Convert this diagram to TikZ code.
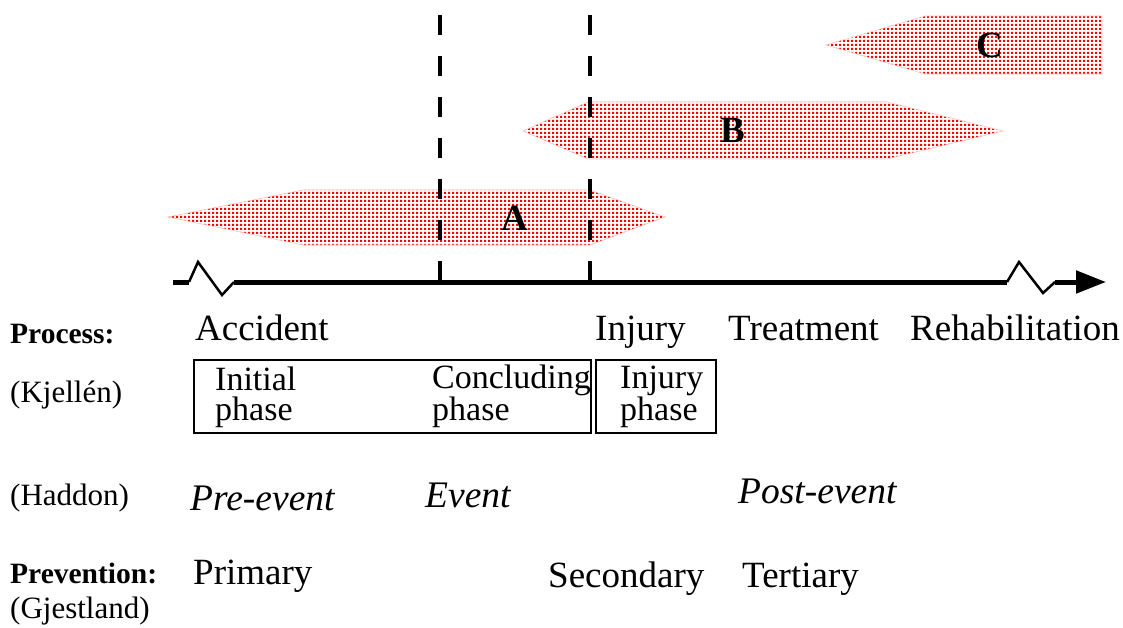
\documentclass[tikz,border=0pt]{standalone}
\usepackage{fontspec}
\setmainfont{Liberation Serif}
\usetikzlibrary{arrows.meta,patterns}
\pgfdeclarepatternformonly{reddots}{\pgfpointorigin}{\pgfpoint{4.2pt}{4.2pt}}{\pgfpoint{4.2pt}{4.2pt}}{%
  \pgfpathrectangle{\pgfpointorigin}{\pgfpoint{2.6pt}{2.6pt}}\pgfusepath{fill}}

\begin{document}
\begin{tikzpicture}[x=1pt, y=-1pt,
  zone/.style={pattern=reddots, pattern color=red, draw=red!25, line width=0.6pt},
  zlabel/.style={inner sep=0pt, font=\fontsize{37}{37}\selectfont\bfseries},
  txt/.style={anchor=base west, inner sep=0pt, font=\fontsize{37}{37}\selectfont},
  itxt/.style={txt, font=\fontsize{37.5}{37}\selectfont\itshape},
  side/.style={anchor=base west, inner sep=0pt, font=\fontsize{31}{31}\selectfont},
  sidebf/.style={side, font=\fontsize{29.5}{30}\selectfont\bfseries},
  phase/.style={anchor=base west, inner sep=0pt, align=left, font=\fontsize{34}{30}\selectfont},
  phasebox/.style={draw, line width=2pt, inner sep=0pt, anchor=north west},
  axis/.style={line width=5pt},
  zig/.style={line width=2.5pt},
  dashline/.style={line width=4.5pt, dash pattern=on 20pt off 21pt}]
\useasboundingbox (0,0) rectangle (1123,628);
% phases A, B, C
\draw[zone] (168,217) -- (303,190) -- (590,190) -- (665,217) -- (590,245) -- (303,245) -- cycle;
\draw[zone] (523,131) -- (588,102) -- (887,102) -- (1003,131) -- (887,159) -- (588,159) -- cycle;
\draw[zone] (826,45) -- (925,16) -- (1102,16) -- (1102,74) -- (925,74) -- cycle;
\node[zlabel] (A) at (515,218) {A};
\node[zlabel] (B) at (733,130) {B};
\node[zlabel] (C) at (990,45) {C};
% time axis
\coordinate (t0) at (173,282);
\coordinate (z1) at (189,282);
\coordinate (z2) at (198,262);
\coordinate (z3) at (222,295);
\coordinate (z4) at (234,282);
\coordinate (t1) at (1007,282);
\coordinate (z5) at (1019,262);
\coordinate (z6) at (1043,293);
\coordinate (z7) at (1055,282);
\coordinate (tip) at (1106,282);
\draw[axis] (t0) -- (z1);
\draw[zig] (z1) -- (z2) -- (z3) -- (z4);
\draw[axis] (z4) -- (t1);
\draw[zig] (t1) -- (z5) -- (z6) -- (z7);
\draw[axis, -{Triangle[length=30pt, width=22pt]}] (z7) -- (tip);
% event boundaries
\coordinate (e1top) at (440,15);
\coordinate (e1bot) at (440,282);
\coordinate (e2top) at (590,15);
\coordinate (e2bot) at (590,282);
\draw[dashline] (e1top) -- (e1bot);
\draw[dashline] (e2top) -- (e2bot);
% row labels
\foreach \n/\s/\y/\l in {process/sidebf/343/Process:, kjellen/side/402/(Kjellén),
   haddon/side/505/(Haddon), prevention/sidebf/583/Prevention:, gjestland/side/618/(Gjestland)}
  \node[\s] (\n) at (10,\y) {\l};
% process
\foreach \n/\x/\l in {accident/195/Accident, injury/595/Injury, treatment/728/Treatment,
   rehab/910/Rehabilitation}
  \node[txt] (\n) at (\x,340) {\l};
% Kjellen phases
\node[phasebox, minimum width=397pt, minimum height=73pt] (kbox1) at (193,359) {};
\node[phasebox, minimum width=120pt, minimum height=73pt] (kbox2) at (595,359) {};
\foreach \n/\x/\l in {initial/215/{Initial\\phase}, concluding/432/{Concluding\\phase},
   injphase/620/{Injury\\phase}}
  \node[phase] (\n) at (\x,420) {\l};
% Haddon
\foreach \n/\x/\y/\l in {preevent/190/510/Pre-event, event/425/507/Event, postevent/738/503/Post-event}
  \node[itxt] (\n) at (\x,\y) {\l};
% Gjestland
\foreach \n/\x/\y/\l in {primary/193/584/Primary, secondary/548/587/Secondary, tertiary/742/587/Tertiary}
  \node[txt] (\n) at (\x,\y) {\l};
\end{tikzpicture}
\end{document}
